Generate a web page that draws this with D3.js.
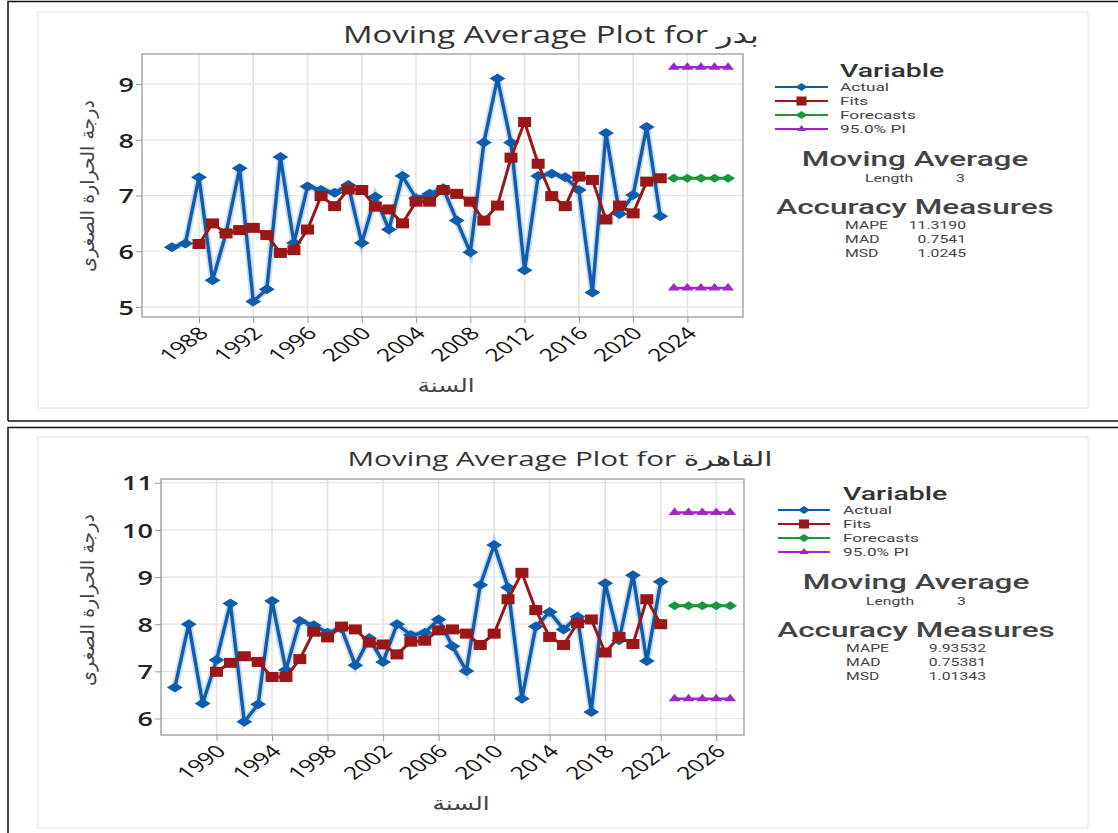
<!DOCTYPE html>
<html>
<head>
<meta charset="utf-8">
<script src="https://cdn.jsdelivr.net/npm/d3@7"></script>
<style>
  body { margin: 0; background: #fff; }
  svg { display: block; }
</style>
</head>
<body>
<svg id="chart" width="1118" height="833"></svg>
<script>
// Moving average plots (Minitab style), two stations

// ---- data ----
const badrYears = d3.range(1986, 2023);
const badrActual = [6.07, 6.14, 7.33, 5.48, 6.33, 7.49, 5.10, 5.32, 7.69, 6.15, 7.16, 7.10, 7.05, 7.19,
  6.15, 6.98, 6.39, 7.35, 6.95, 7.03, 7.13, 6.55, 5.98, 7.95, 9.10, 7.95, 5.66, 7.35, 7.39, 7.33,
  7.10, 5.26, 8.12, 6.67, 7.01, 8.23, 6.63];
const badrFitYears = d3.range(1988, 2023);
const badrFits = [6.13, 6.50, 6.32, 6.38, 6.42, 6.29, 5.97, 6.02, 6.39, 6.99, 6.81, 7.11, 7.10, 6.80,
  6.75, 6.50, 6.89, 6.89, 7.10, 7.03, 6.89, 6.55, 6.82, 7.68, 8.32, 7.57, 6.99, 6.81, 7.34, 7.28,
  6.57, 6.82, 6.68, 7.25, 7.31];
const badrForecast = [7.31, 7.31, 7.31, 7.31, 7.31];
const badrUpper = [9.30, 9.30, 9.30, 9.30, 9.30];
const badrLower = [5.34, 5.34, 5.34, 5.34, 5.34];
const badrXTicks = [1988, 1992, 1996, 2000, 2004, 2008, 2012, 2016, 2020, 2024];
const badrYTicks = [5, 6, 7, 8, 9];
const badrMeasures = [["MAPE", "11.3190"], ["MAD", "0.7541"], ["MSD", "1.0245"]];

const cairoYears = d3.range(1987, 2023);
const cairoActual = [6.66, 8.00, 6.32, 7.24, 8.44, 5.93, 6.30, 8.49, 7.03, 8.07, 7.98, 7.82, 7.91,
  7.13, 7.70, 7.20, 8.00, 7.77, 7.82, 8.10, 7.53, 7.01, 8.83, 9.68, 8.78, 6.42, 7.95, 8.26, 7.89,
  8.16, 6.14, 8.87, 7.66, 9.04, 7.22, 8.90];
const cairoFitYears = d3.range(1990, 2023);
const cairoFits = [6.99, 7.18, 7.32, 7.20, 6.88, 6.88, 7.26, 7.84, 7.72, 7.95, 7.89, 7.61, 7.57,
  7.36, 7.63, 7.65, 7.87, 7.89, 7.80, 7.56, 7.80, 8.53, 9.09, 8.30, 7.73, 7.56, 8.02, 8.10, 7.40,
  7.73, 7.58, 8.53, 8.00];
const cairoForecast = [8.39, 8.39, 8.39, 8.39, 8.39];
const cairoUpper = [10.37, 10.37, 10.37, 10.37, 10.37];
const cairoLower = [6.42, 6.42, 6.42, 6.42, 6.42];
const cairoXTicks = [1990, 1994, 1998, 2002, 2006, 2010, 2014, 2018, 2022, 2026];
const cairoYTicks = [6, 7, 8, 9, 10, 11];
const cairoMeasures = [["MAPE", "9.93532"], ["MAD", "0.75381"], ["MSD", "1.01343"]];

const forecastYears = [2023, 2024, 2025, 2026, 2027];
const legendLabels = ["Actual", "Fits", "Forecasts", "95.0% PI"];

// ---- styling ----
const colors = { actual: "#0d5cad", fits: "#9b1616", forecast: "#17993a", pi: "#a126c9" };
const latin = "'Open Sans', 'DejaVu Sans', sans-serif";
const compact = "Roboto, 'Liberation Sans', sans-serif"; // tighter line box for the legend
const arabic = "'DejaVu Sans', sans-serif";
const SX = 1.4; // the source image is stretched sideways, so is the text

const svg = d3.select("#chart");

// text helper: places text at (x,y) with the sideways stretch
function txt(g, x, y, s, o = {}) {
  return g.append("text")
    .attr("transform", `translate(${x},${y}) scale(${o.sx || SX},1)`)
    .attr("text-anchor", o.anchor || "start")
    .attr("font-family", o.family || latin)
    .attr("font-size", o.size || 11)
    .attr("font-weight", o.weight || 400)
    .attr("fill", o.fill || "#444")
    .text(s);
}

// outer black frames + light gray inner boxes
svg.append("path")
  .attr("d", "M8,421 L8,1.5 L1118,1.5 M8,421 L1118,421")
  .attr("fill", "none").attr("stroke", "#111").attr("stroke-width", 1.5);
svg.append("path")
  .attr("d", "M8,833 L8,427.5 L1118,427.5")
  .attr("fill", "none").attr("stroke", "#111").attr("stroke-width", 1.5);
svg.append("rect").attr("x", 38).attr("y", 12).attr("width", 1050).attr("height", 396)
  .attr("fill", "none").attr("stroke", "#e2e2e2");
svg.append("rect").attr("x", 38).attr("y", 437).attr("width", 1050).attr("height", 391)
  .attr("fill", "none").attr("stroke", "#e2e2e2");

const diamond = (w, h) => `M${-w},0L0,${-h}L${w},0L0,${h}Z`;
const triangle = (w, h) => `M${-w},${h * 0.5}L0,${-h}L${w},${h * 0.5}Z`;

function drawPanel(cfg) {
  const g = svg.append("g");
  const x = d3.scaleLinear().domain(cfg.xDomain).range([cfg.left, cfg.right]);
  const y = d3.scaleLinear().domain(cfg.yDomain).range([cfg.bottom, cfg.top]);

  // gridlines
  g.append("g").selectAll("line").data(cfg.yTicks).join("line")
    .attr("x1", cfg.left).attr("x2", cfg.right)
    .attr("y1", d => y(d)).attr("y2", d => y(d))
    .attr("stroke", "#e4e4e4").attr("stroke-width", 1.2);
  g.append("g").selectAll("line").data(cfg.xTicks).join("line")
    .attr("x1", d => x(d)).attr("x2", d => x(d))
    .attr("y1", cfg.top).attr("y2", cfg.bottom)
    .attr("stroke", "#e4e4e4").attr("stroke-width", 1.6);

  // frame
  g.append("rect").attr("x", cfg.left).attr("y", cfg.top)
    .attr("width", cfg.right - cfg.left).attr("height", cfg.bottom - cfg.top)
    .attr("fill", "none").attr("stroke", "#a8a8a8").attr("stroke-width", 1.5);

  // axes
  const yAxis = g.append("g").attr("transform", `translate(${cfg.left},0)`)
    .call(d3.axisLeft(y).tickValues(cfg.yTicks).tickSize(6).tickFormat(d3.format("d")));
  yAxis.select(".domain").remove();
  yAxis.selectAll(".tick line").attr("stroke", "#999");
  yAxis.selectAll("text").attr("x", 0).attr("dy", "0.36em")
    .attr("transform", "translate(-8,0) scale(1.35,1)")
    .attr("font-family", latin).attr("font-size", 20)
    .attr("font-weight", 600).attr("fill", "#222");

  const xAxis = g.append("g").attr("transform", `translate(0,${cfg.bottom})`)
    .call(d3.axisBottom(x).tickValues(cfg.xTicks).tickSize(6).tickFormat(d3.format("d")));
  xAxis.select(".domain").remove();
  xAxis.selectAll(".tick line").attr("stroke", "#999");
  xAxis.selectAll("text")
    .attr("font-family", latin).attr("font-size", 17.5).attr("fill", "#111")
    .attr("text-anchor", "end").attr("dy", "0.35em").attr("y", 0)
    .attr("transform", `translate(4,13) scale(${SX},1) rotate(-45)`);

  // axis titles
  g.append("text").attr("transform", `translate(${cfg.yLabelX},${cfg.yLabelY}) rotate(-90)`)
    .attr("text-anchor", "middle").attr("font-family", arabic).attr("font-size", 19)
    .attr("fill", "#444").text("درجة الحرارة الصغرى");
  txt(g, cfg.xLabelX, cfg.xLabelY, "السنة", { anchor: "middle", family: arabic, size: 19, sx: 1.3 });

  // title
  txt(g, cfg.titleX, cfg.titleY, cfg.title,
    { anchor: "middle", size: cfg.titleSize, sx: cfg.titleSX, fill: "#333" });

  const line = d3.line().x(d => x(d[0])).y(d => y(d[1]));
  const act = cfg.years.map((yr, i) => [yr, cfg.actual[i]]);
  const fit = cfg.fitYears.map((yr, i) => [yr, cfg.fits[i]]);
  const fc = forecastYears.map((yr, i) => [yr, cfg.forecast[i]]);
  const up = forecastYears.map((yr, i) => [yr, cfg.upper[i]]);
  const lo = forecastYears.map((yr, i) => [yr, cfg.lower[i]]);

  // actual: soft halo + line + diamonds
  g.append("path").datum(act).attr("d", line).attr("fill", "none")
    .attr("stroke", "#8fb4dd").attr("stroke-opacity", 0.45).attr("stroke-width", 7);
  g.append("path").datum(act).attr("d", line).attr("fill", "none")
    .attr("stroke", colors.actual).attr("stroke-width", 3.4);
  g.append("g").selectAll("path").data(act).join("path")
    .attr("transform", d => `translate(${x(d[0])},${y(d[1])})`)
    .attr("d", diamond(8, 5)).attr("fill", colors.actual);

  // fits
  g.append("path").datum(fit).attr("d", line).attr("fill", "none")
    .attr("stroke", colors.fits).attr("stroke-width", 3);
  g.append("g").selectAll("rect").data(fit).join("rect")
    .attr("x", d => x(d[0]) - 6.5).attr("y", d => y(d[1]) - 5)
    .attr("width", 13).attr("height", 10).attr("fill", colors.fits);

  // forecasts
  g.append("path").datum(fc).attr("d", line).attr("fill", "none")
    .attr("stroke", colors.forecast).attr("stroke-width", 3);
  g.append("g").selectAll("path").data(fc).join("path")
    .attr("transform", d => `translate(${x(d[0])},${y(d[1])})`)
    .attr("d", diamond(7, 4.5)).attr("fill", colors.forecast);

  // prediction interval
  [up, lo].forEach(series => {
    g.append("path").datum(series).attr("d", line).attr("fill", "none")
      .attr("stroke", colors.pi).attr("stroke-width", 2.5);
    g.append("g").selectAll("path").data(series).join("path")
      .attr("transform", d => `translate(${x(d[0])},${y(d[1])})`)
      .attr("d", triangle(6, 5)).attr("fill", colors.pi);
  });

  // legend block
  const lg = g.append("g");
  const L = cfg.legend;
  txt(lg, L.tx, L.y - 2, "Variable", { family: compact, size: 19, weight: 500, fill: "#333", sx: 1.5 });
  const keys = ["actual", "fits", "forecast", "pi"];
  keys.forEach((k, i) => {
    const ry = L.y + 8 + i * 14;
    lg.append("line").attr("x1", L.x1).attr("x2", L.x2).attr("y1", ry).attr("y2", ry)
      .attr("stroke", colors[k]).attr("stroke-width", 2);
    const m = lg.append("g").attr("transform", `translate(${(L.x1 + L.x2) / 2},${ry})`);
    if (k === "fits") m.append("rect").attr("x", -5).attr("y", -4.5).attr("width", 10).attr("height", 9).attr("fill", colors[k]);
    else if (k === "pi") m.append("path").attr("d", triangle(4.5, 4)).attr("fill", colors[k]);
    else m.append("path").attr("d", diamond(6, 4)).attr("fill", colors[k]);
    txt(lg, L.tx, ry + 4, legendLabels[i], { family: compact, size: 11.5, sx: 1.5 });
  });

  txt(lg, L.cx, L.y + 87, "Moving Average", { family: compact, anchor: "middle", size: 21, weight: 500, sx: 1.5 });
  txt(lg, L.cx - 50, L.y + 103, "Length", { family: compact, size: 10.5, sx: 1.5 });
  txt(lg, L.cx + 41, L.y + 103, "3", { family: compact, size: 10.5, sx: 1.5 });

  txt(lg, L.cx, L.y + 135, "Accuracy Measures", { family: compact, anchor: "middle", size: 21, weight: 500, sx: 1.5 });
  cfg.measures.forEach((mv, i) => {
    const ry = L.y + 150 + i * 14;
    txt(lg, L.cx - 70, ry, mv[0], { family: compact, size: 10.5, sx: 1.5 });
    txt(lg, L.valEnd, ry, mv[1], { family: compact, anchor: "end", size: 10.5, sx: 1.5 });
  });
}

drawPanel({
  title: "Moving Average Plot for بدر", titleX: 551, titleY: 43, titleSize: 23, titleSX: 1.43,
  left: 142, right: 743, top: 54, bottom: 317,
  xDomain: [1983.8, 2028.1], yDomain: [4.82, 9.54],
  xTicks: badrXTicks, yTicks: badrYTicks,
  yLabelX: 94, yLabelY: 186, xLabelX: 446, xLabelY: 392,
  years: badrYears, actual: badrActual, fitYears: badrFitYears, fits: badrFits,
  forecast: badrForecast, upper: badrUpper, lower: badrLower, measures: badrMeasures,
  legend: { x1: 775, x2: 828, tx: 840, y: 79, cx: 915, valEnd: 966 }
});

drawPanel({
  title: "Moving Average Plot for القاهرة", titleX: 560, titleY: 466, titleSize: 20, titleSX: 1.48,
  left: 161, right: 744, top: 479, bottom: 735,
  xDomain: [1986, 2028], yDomain: [5.65, 11.08],
  xTicks: cairoXTicks, yTicks: cairoYTicks,
  yLabelX: 94, yLabelY: 600, xLabelX: 461, xLabelY: 810,
  years: cairoYears, actual: cairoActual, fitYears: cairoFitYears, fits: cairoFits,
  forecast: cairoForecast, upper: cairoUpper, lower: cairoLower, measures: cairoMeasures,
  legend: { x1: 778, x2: 830, tx: 843, y: 502, cx: 916, valEnd: 986 }
});
</script>
</body>
</html>
